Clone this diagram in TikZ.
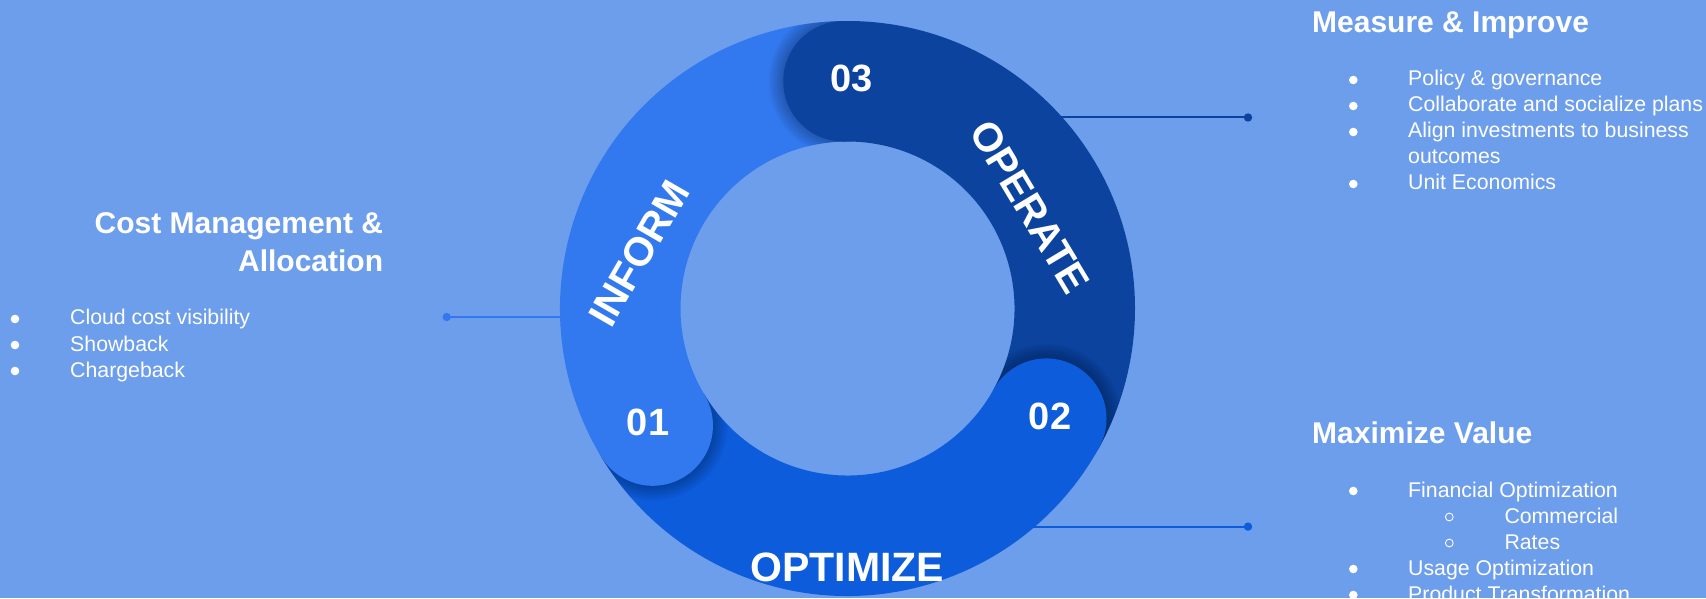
\documentclass[tikz,border=0pt]{standalone}
\usepackage{fontspec}
\setmainfont{Liberation Sans}
\definecolor{bg}{HTML}{6D9EEB}
\definecolor{inform}{HTML}{3279F0}
\definecolor{optimize}{HTML}{0D5CDC}
\definecolor{operate}{HTML}{0B439F}
\tikzset{
  head/.style={font=\fontsize{30}{36}\selectfont\bfseries, text=white, inner sep=0pt},
  body/.style={font=\fontsize{21.3}{26}\selectfont, text=white, inner sep=0pt, anchor=base west},
  ringword/.style={font=\fontsize{40.5}{48}\selectfont\bfseries, text=white, inner sep=0pt},
  num/.style={font=\fontsize{38}{44}\selectfont\bfseries, text=white, inner sep=0pt},
  conn/.style={line width=2pt},
  enddot/.style={circle, inner sep=0pt, minimum size=8.4pt},
  subbul/.style={draw=white, line width=0.9pt},
}
\begin{document}
\begin{tikzpicture}[x=1pt,y=1pt]
\fill[bg] (0,0) rectangle (1706,598);
\useasboundingbox (0,0) rectangle (1706,598);

% connectors (drawn under the ring)
\coordinate (C) at (847.5,289.5);
\coordinate (lend) at (620,281);
\coordinate (trend) at (1020,480.5);
\coordinate (brend) at (1000,71.4);
\node[enddot, fill=inform] (ldot) at (446.7,281) {};
\node[enddot, fill=operate] (trdot) at (1248,480.5) {};
\node[enddot, fill=optimize] (brdot) at (1248,71.4) {};
\draw[conn, inform] (ldot.center) -- (lend);
\draw[conn, operate] (trdot.center) -- (trend);
\draw[conn, optimize] (brdot.center) -- (brend);

% ring
\begin{scope}[shift={(C)}]
\def\Ro{287.5pt}\def\Ri{167pt}\def\Rm{227.25pt}
\fill[inform] (211:\Ro) arc[start angle=211,end angle=91,radius=\Ro] -- (91:\Ri) arc[start angle=91,end angle=211,radius=\Ri] -- cycle;
\fill[operate] (91:\Ro) arc[start angle=91,end angle=-29,radius=\Ro] -- (-29:\Ri) arc[start angle=-29,end angle=91,radius=\Ri] -- cycle;
\fill[optimize] (-29:\Ro) arc[start angle=-29,end angle=-149,radius=\Ro] -- (-149:\Ri) arc[start angle=-149,end angle=-29,radius=\Ri] -- cycle;
\foreach \a/\c in {91/operate,211/inform,331/optimize}{
  \begin{scope}
    \clip (\a:\Ro) arc[start angle=\a,end angle=\a+40,radius=\Ro] -- (\a+40:\Ri) arc[start angle=\a+40,end angle=\a,radius=\Ri] -- cycle;
    \foreach \r in {61,63,...,75} \fill[black,opacity=0.035] (\a:\Rm) circle[radius=\r pt];
  \end{scope}
  \fill[\c] (\a:\Rm) circle[radius=60.25pt];
}
\end{scope}

% ring labels
\node[ringword, rotate=60] (inform) at (639,345) {INFORM};
\node[ringword, rotate=-59] (operate) at (1030,391) {OPERATE};
\node[ringword, font=\fontsize{41}{48}\selectfont\bfseries] (optimize) at (847.5,30.6) {OPTIMIZE};
\node[num] (n01) at (648,176) {01};
\node[num] (n02) at (1050,182) {02};
\node[num] (n03) at (851.7,519.7) {03};

% left block
\node[head, anchor=base east] (cm1) at (383.3,364.7) {Cost Management \&};
\node[head, anchor=base east] (cm2) at (383.3,326.3) {Allocation};
\node[body] (l1) at (70,273) {Cloud cost visibility};
\node[body] (l2) at (70,247) {Showback};
\node[body] (l3) at (70,221) {Chargeback};
\foreach \y in {273,247,221} \fill[white] (15,\y+6) circle[radius=4.3pt];

% top right block
\node[head, anchor=base west] (mi) at (1312,565.7) {Measure \& Improve};
\node[body] (m1) at (1408,512) {Policy \& governance};
\node[body] (m2) at (1408,486) {Collaborate and socialize plans};
\node[body] (m3) at (1408,460) {Align investments to business};
\node[body] (m3b) at (1408,434) {outcomes};
\node[body] (m4) at (1408,408) {Unit Economics};
\foreach \y in {512,486,460,408} \fill[white] (1353.3,\y+6) circle[radius=4.3pt];

% bottom right block
\node[head, anchor=base west] (mv) at (1312,154.7) {Maximize Value};
\node[body] (v1) at (1408,101) {Financial Optimization};
\node[body] (v1a) at (1504.3,75) {Commercial};
\node[body] (v1b) at (1504.3,49) {Rates};
\node[body] (v2) at (1408,23) {Usage Optimization};
\node[body] (v3) at (1408,-3) {Product Transformation};
\foreach \y in {101,23,-3} \fill[white] (1353.3,\y+6) circle[radius=4.3pt];
\foreach \y in {75,49} \draw[subbul] (1449.3,\y+6) circle[radius=3.9pt];
\end{tikzpicture}
\end{document}
